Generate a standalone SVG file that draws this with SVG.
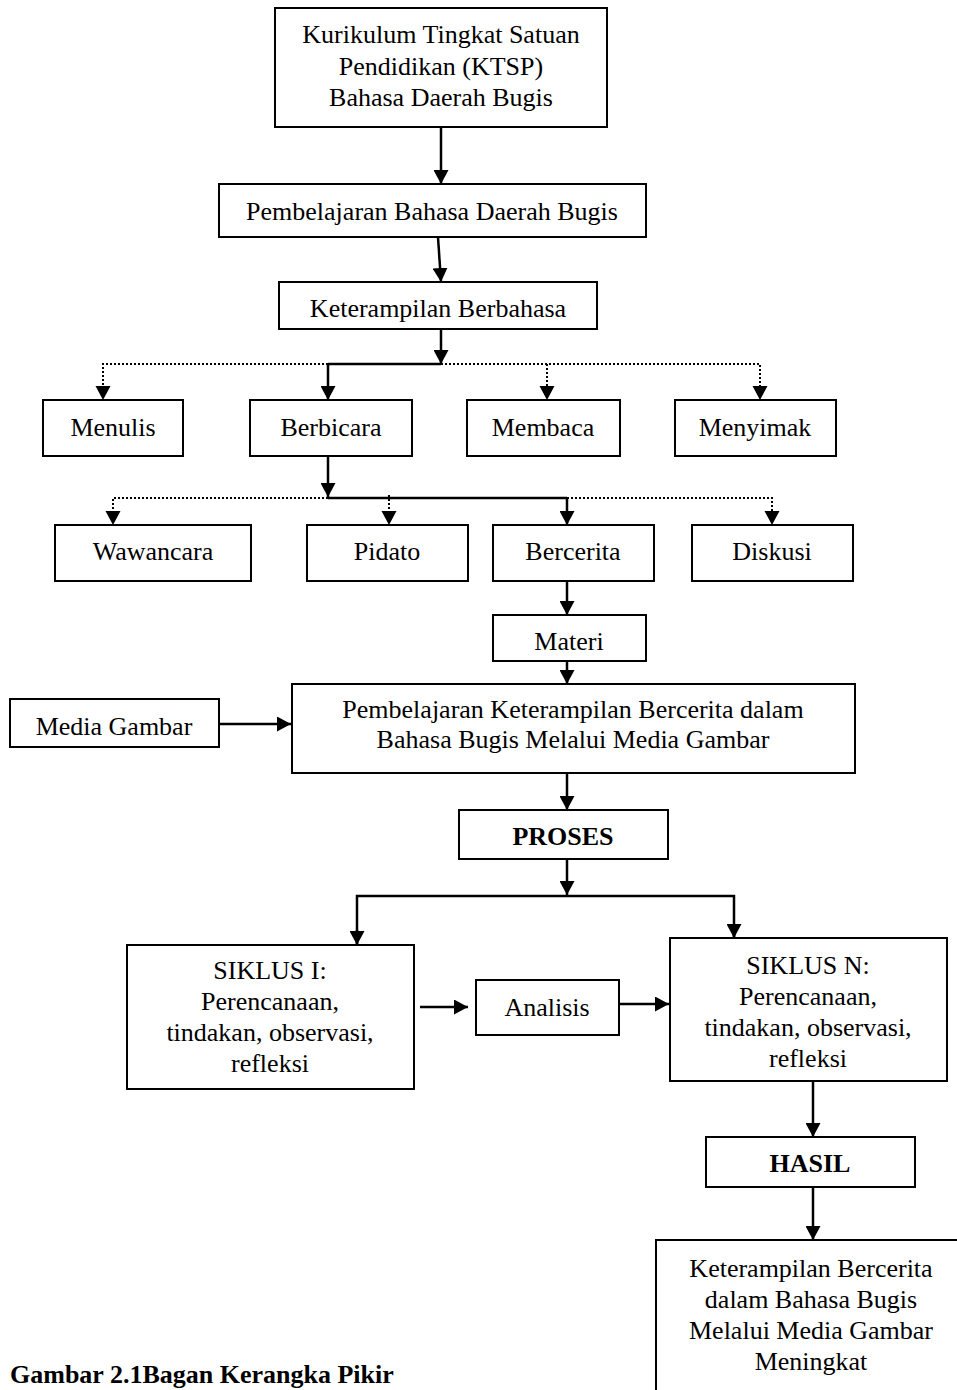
<svg xmlns="http://www.w3.org/2000/svg" width="957" height="1390" viewBox="0 0 957 1390">
<defs>
<marker id="ah" markerUnits="userSpaceOnUse" markerWidth="15" markerHeight="15" refX="14" refY="7.5" orient="auto" viewBox="0 0 15 15">
<path d="M0,0 L14,7.5 L0,15 z" fill="#000"/>
</marker>
</defs>
<style>
.b{fill:#fff;stroke:#000;stroke-width:2}
.t{font-family:"Liberation Serif","Times New Roman",serif;font-size:26px;fill:#000;text-anchor:middle}
.bd{font-weight:bold}
.s{fill:none;stroke:#000;stroke-width:2.5}
.d{fill:none;stroke:#000;stroke-width:2;stroke-dasharray:2 2}
.a{marker-end:url(#ah)}
</style>
<rect width="957" height="1390" fill="#fff"/>
<g id="connectors">
<line class="s a" x1="441" y1="127" x2="441" y2="184"/>
<line class="s a" x1="438" y1="237" x2="441" y2="282"/>
<line class="s a" x1="441" y1="329" x2="441" y2="364"/>
<polyline class="s" points="328,364 441,364"/>
<line class="s a" x1="328" y1="363" x2="328" y2="400"/>
<polyline class="d" points="328,364 103,364 103,386"/>
<polyline class="d" points="441,364 760,364 760,386"/>
<line class="d" x1="547" y1="364" x2="547" y2="386"/>
<path d="M95.5,386 L110.5,386 L103,400 z M539.5,386 L554.5,386 L547,400 z M752.5,386 L767.5,386 L760,400 z"/>
<line class="s a" x1="328" y1="456" x2="328" y2="497"/>
<polyline class="s" points="328,498 567,498"/>
<line class="s a" x1="567" y1="497" x2="567" y2="525"/>
<polyline class="d" points="328,498 113,498 113,511"/>
<polyline class="d" points="567,498 772,498 772,511"/>
<line class="d" x1="389" y1="495" x2="389" y2="511"/>
<path d="M105.5,511 L120.5,511 L113,525 z M381.5,511 L396.5,511 L389,525 z M764.5,511 L779.5,511 L772,525 z"/>
<line class="s a" x1="567" y1="581" x2="567" y2="615"/>
<line class="s a" x1="567" y1="661" x2="567" y2="684"/>
<line class="s a" x1="219" y1="724" x2="291" y2="724"/>
<line class="s a" x1="567" y1="773" x2="567" y2="810"/>
<line class="s a" x1="567" y1="859" x2="567" y2="895"/>
<polyline class="s" points="357,945 357,896 734,896 734,938"/>
<line class="s a" x1="357" y1="930" x2="357" y2="945"/>
<line class="s a" x1="734" y1="925" x2="734" y2="938"/>
<line class="s a" x1="420" y1="1007" x2="468" y2="1007"/>
<line class="s a" x1="619" y1="1004" x2="669" y2="1004"/>
<line class="s a" x1="813" y1="1081" x2="813" y2="1137"/>
<line class="s a" x1="813" y1="1187" x2="813" y2="1240"/>
</g>
<g id="ktsp">
<rect class="b" x="275" y="8" width="332" height="119"/>
<text class="t" x="441" y="43">Kurikulum Tingkat Satuan</text>
<text class="t" x="441" y="75">Pendidikan (KTSP)</text>
<text class="t" x="441" y="106">Bahasa Daerah Bugis</text>
</g>
<g id="pembelajaran">
<rect class="b" x="219" y="184" width="427" height="53"/>
<text class="t" x="432" y="220">Pembelajaran Bahasa Daerah Bugis</text>
</g>
<g id="keterampilan">
<rect class="b" x="279" y="282" width="318" height="47"/>
<text class="t" x="438" y="317">Keterampilan Berbahasa</text>
</g>
<g id="menulis">
<rect class="b" x="43" y="400" width="140" height="56"/>
<text class="t" x="113" y="436">Menulis</text>
</g>
<g id="berbicara">
<rect class="b" x="250" y="400" width="162" height="56"/>
<text class="t" x="331" y="436">Berbicara</text>
</g>
<g id="membaca">
<rect class="b" x="467" y="400" width="153" height="56"/>
<text class="t" x="543" y="436">Membaca</text>
</g>
<g id="menyimak">
<rect class="b" x="675" y="400" width="161" height="56"/>
<text class="t" x="755" y="436">Menyimak</text>
</g>
<g id="wawancara">
<rect class="b" x="55" y="525" width="196" height="56"/>
<text class="t" x="153" y="560">Wawancara</text>
</g>
<g id="pidato">
<rect class="b" x="307" y="525" width="161" height="56"/>
<text class="t" x="387" y="560">Pidato</text>
</g>
<g id="bercerita">
<rect class="b" x="493" y="525" width="161" height="56"/>
<text class="t" x="573" y="560">Bercerita</text>
</g>
<g id="diskusi">
<rect class="b" x="692" y="525" width="161" height="56"/>
<text class="t" x="772" y="560">Diskusi</text>
</g>
<g id="materi">
<rect class="b" x="493" y="615" width="153" height="46"/>
<text class="t" x="569" y="650">Materi</text>
</g>
<g id="media-gambar">
<rect class="b" x="10" y="699" width="209" height="48"/>
<text class="t" x="114" y="735">Media Gambar</text>
</g>
<g id="pembelajaran-bercerita">
<rect class="b" x="292" y="684" width="563" height="89"/>
<text class="t" x="573" y="718">Pembelajaran Keterampilan Bercerita dalam</text>
<text class="t" x="573" y="748">Bahasa Bugis Melalui Media Gambar</text>
</g>
<g id="proses">
<rect class="b" x="459" y="810" width="209" height="49"/>
<text class="t bd" x="563" y="845">PROSES</text>
</g>
<g id="siklus-1">
<rect class="b" x="127" y="945" width="287" height="144"/>
<text class="t" x="270" y="979">SIKLUS I:</text>
<text class="t" x="270" y="1010">Perencanaan,</text>
<text class="t" x="270" y="1041">tindakan, observasi,</text>
<text class="t" x="270" y="1072">refleksi</text>
</g>
<g id="analisis">
<rect class="b" x="476" y="980" width="143" height="55"/>
<text class="t" x="547" y="1016">Analisis</text>
</g>
<g id="siklus-n">
<rect class="b" x="670" y="938" width="277" height="143"/>
<text class="t" x="808" y="974">SIKLUS N:</text>
<text class="t" x="808" y="1005">Perencanaan,</text>
<text class="t" x="808" y="1036">tindakan, observasi,</text>
<text class="t" x="808" y="1067">refleksi</text>
</g>
<g id="hasil">
<rect class="b" x="706" y="1137" width="209" height="50"/>
<text class="t bd" x="810" y="1172">HASIL</text>
</g>
<g id="hasil-akhir">
<rect class="b" x="656" y="1240" width="320" height="170"/>
<text class="t" x="811" y="1277">Keterampilan Bercerita</text>
<text class="t" x="811" y="1308">dalam Bahasa Bugis</text>
<text class="t" x="811" y="1339">Melalui Media Gambar</text>
<text class="t" x="811" y="1370">Meningkat</text>
</g>
<g id="caption">
<text class="t bd" x="10" y="1383" style="text-anchor:start">Gambar 2.1Bagan Kerangka Pikir</text>
</g>
</svg>
